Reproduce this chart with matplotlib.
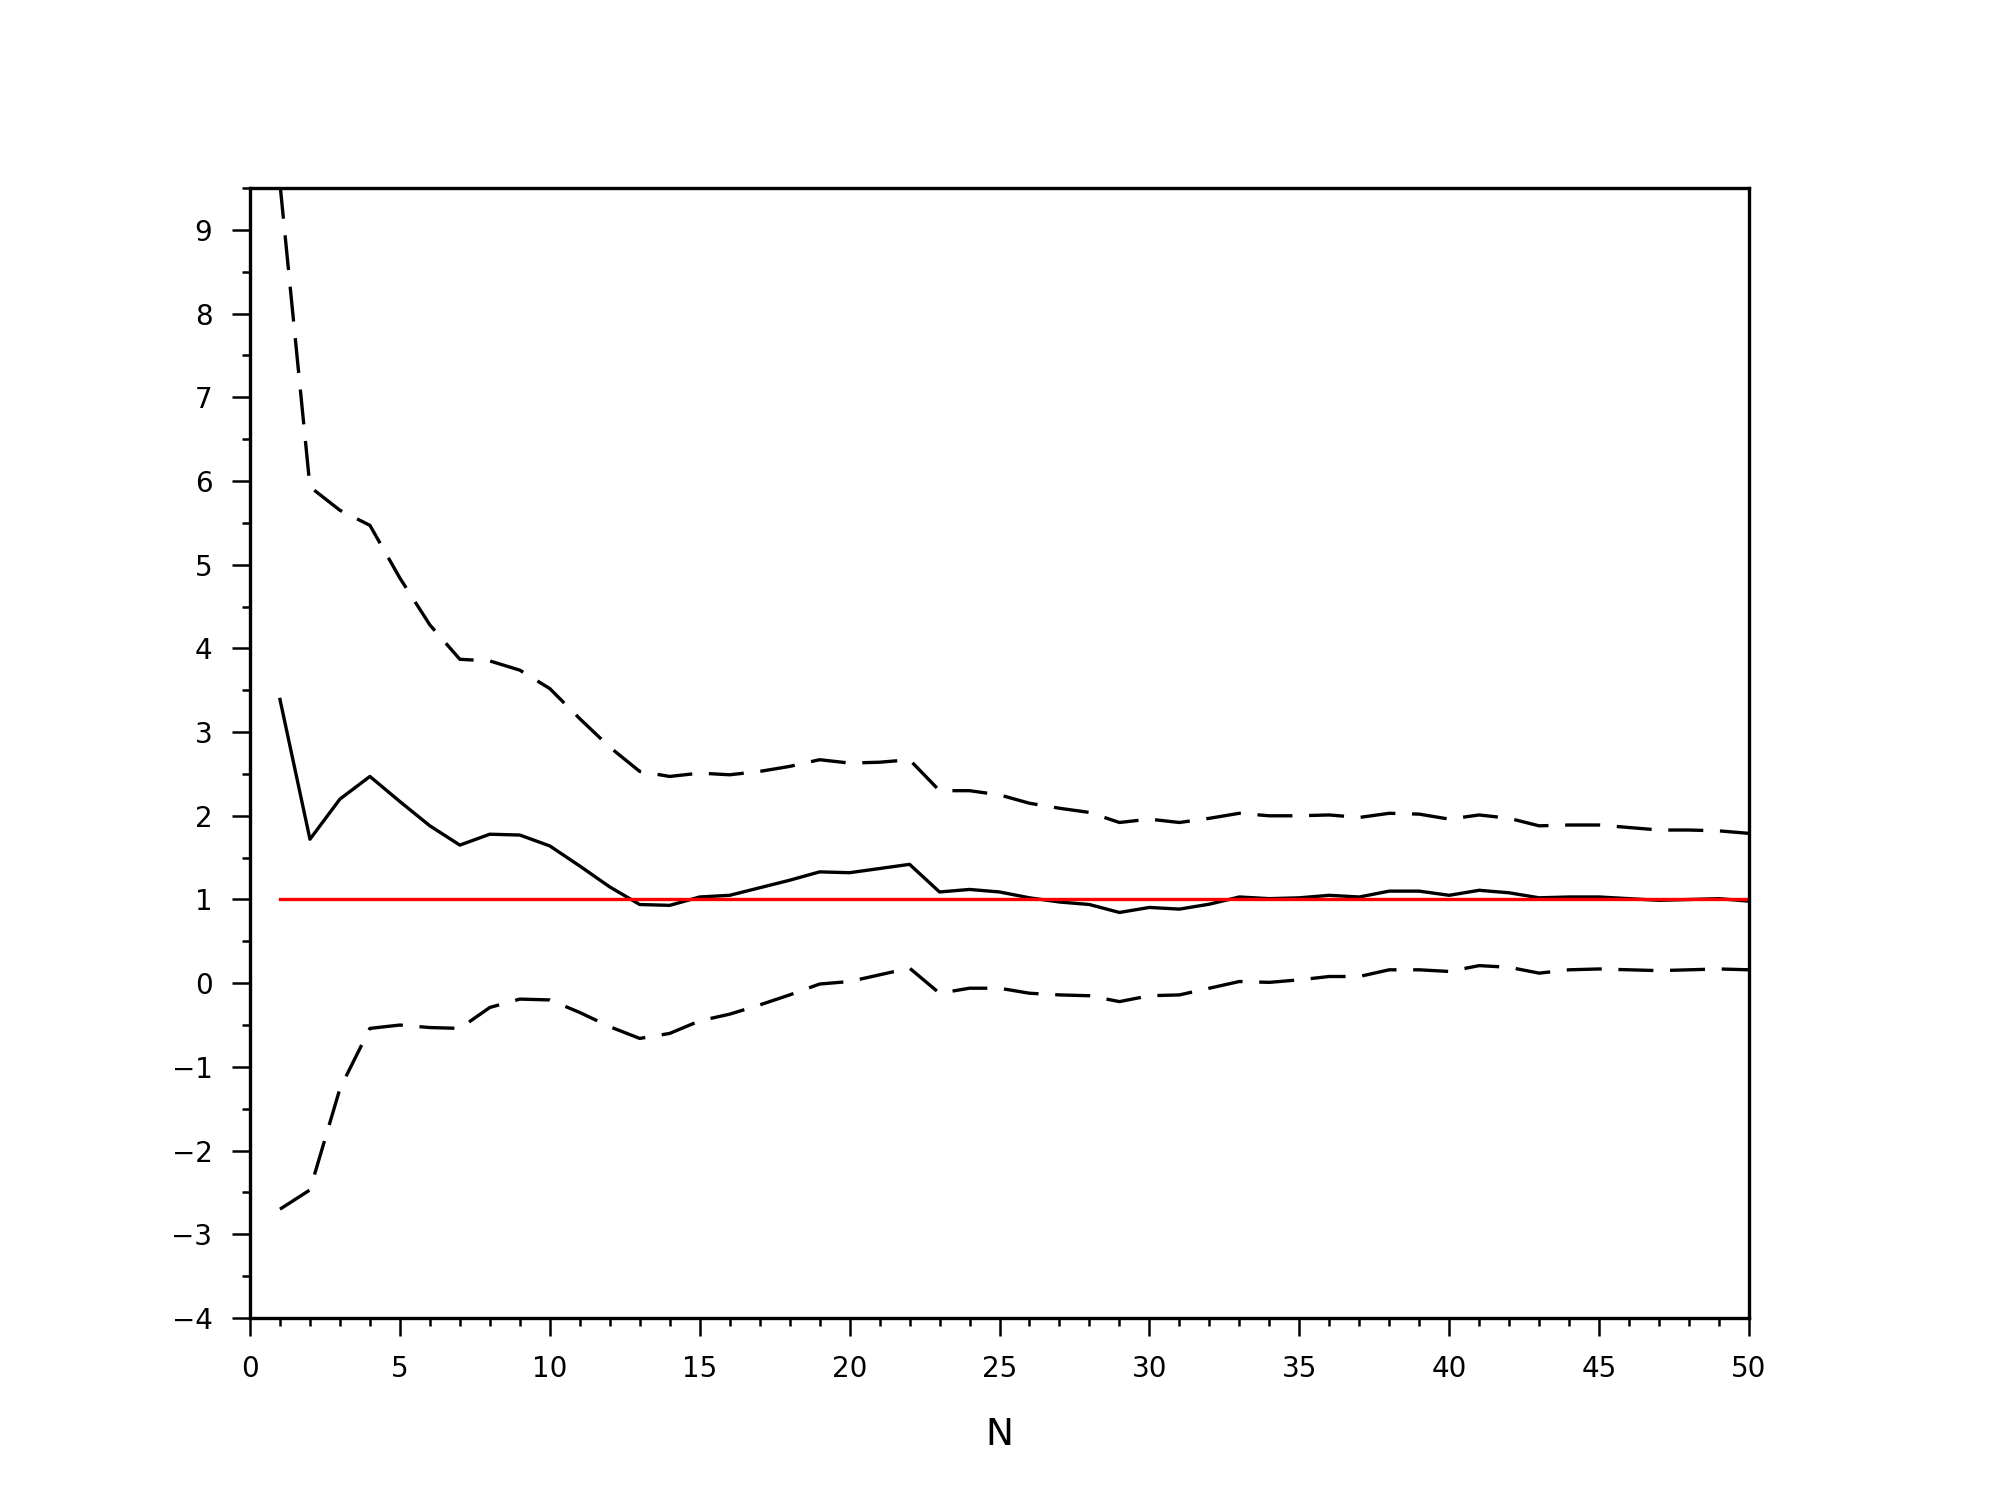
#!/usr/bin/env python
"""
Running mean with upper and lower bounds versus N.
"""

import matplotlib
matplotlib.use("Agg")
import matplotlib.pyplot as plt
from matplotlib.ticker import MultipleLocator

# Data
n = list(range(1, 51))

mean = [3.39, 1.72, 2.20, 2.47, 2.17, 1.88, 1.65, 1.78, 1.77, 1.64,
        1.40, 1.15, 0.94, 0.93, 1.03, 1.05, 1.14, 1.23, 1.33, 1.32,
        1.37, 1.42, 1.09, 1.12, 1.09, 1.02, 0.97, 0.94, 0.845, 0.905,
        0.885, 0.944, 1.03, 1.01, 1.02, 1.05, 1.03, 1.10, 1.10, 1.05,
        1.11, 1.08, 1.02, 1.03, 1.03, 1.01, 0.99, 1.00, 1.01, 0.98]

upper = [9.55, 5.93, 5.65, 5.47, 4.84, 4.28, 3.87, 3.85, 3.74, 3.52,
         3.16, 2.82, 2.53, 2.47, 2.51, 2.49, 2.53, 2.59, 2.67, 2.63,
         2.64, 2.67, 2.30, 2.30, 2.25, 2.15, 2.09, 2.04, 1.92, 1.96,
         1.92, 1.97, 2.03, 2.00, 2.00, 2.01, 1.98, 2.03, 2.02, 1.96,
         2.01, 1.97, 1.88, 1.89, 1.89, 1.86, 1.83, 1.83, 1.82, 1.79]

lower = [-2.70, -2.47, -1.26, -0.54, -0.50, -0.53, -0.54, -0.29, -0.19, -0.20,
         -0.35, -0.52, -0.66, -0.60, -0.45, -0.37, -0.26, -0.14, -0.01, 0.02,
         0.10, 0.18, -0.12, -0.06, -0.06, -0.12, -0.14, -0.15, -0.22, -0.15,
         -0.14, -0.06, 0.02, 0.01, 0.04, 0.08, 0.08, 0.16, 0.16, 0.14,
         0.21, 0.19, 0.12, 0.16, 0.17, 0.16, 0.15, 0.16, 0.17, 0.16]

target = [1.0] * len(n)


def plot_bounds():
    fig = plt.figure(figsize=(10, 7.54), dpi=200)
    ax = fig.add_axes([0.125, 0.126, 0.7495, 0.7493])

    ax.plot(n, upper, c="black", lw=1.2, ls=(0, (10.5, 5)))
    ax.plot(n, lower, c="black", lw=1.2, ls=(0, (10.5, 5)))
    ax.plot(n, mean, c="black", lw=1.2)
    ax.plot(n, target, c="red", lw=1.2)

    ax.set_xlim(0, 50)
    ax.set_ylim(-4, 9.5)
    ax.xaxis.set_major_locator(MultipleLocator(5))
    ax.xaxis.set_minor_locator(MultipleLocator(1))
    ax.yaxis.set_major_locator(MultipleLocator(1))
    ax.yaxis.set_minor_locator(MultipleLocator(0.5))

    for side in ax.spines.values():
        side.set_linewidth(1.2)
    ax.tick_params(which="major", length=6.5, width=0.9, labelsize=10, pad=7,
                   direction="out", color="black")
    ax.tick_params(which="minor", length=3, width=0.9, direction="out")
    ax.set_yticks(range(-4, 10))
    ax.set_yticklabels([str(v).replace("-", "\u2212") for v in range(-4, 10)])

    ax.set_xlabel("N", fontsize=13.5, labelpad=12)

    fig.savefig("out.png", dpi=200)


if __name__ == "__main__":
    plot_bounds()
